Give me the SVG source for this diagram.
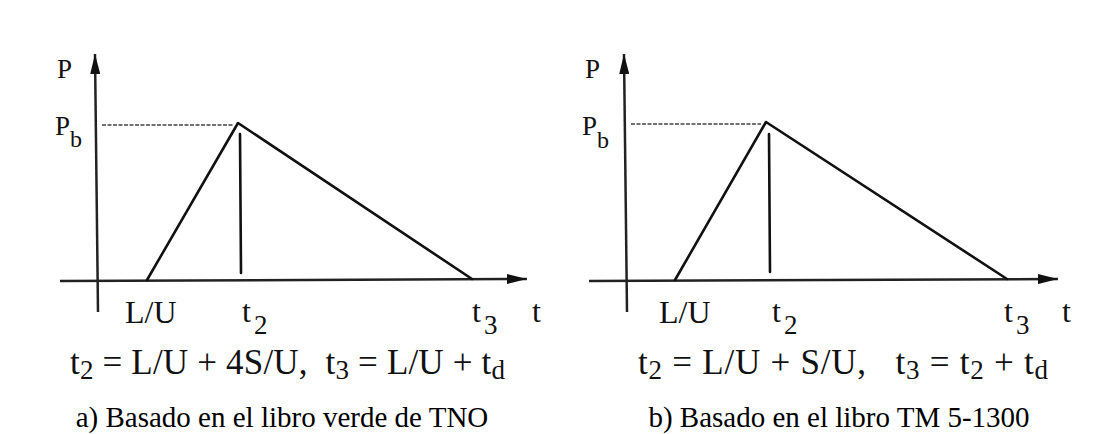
<svg xmlns="http://www.w3.org/2000/svg" width="1098" height="434" viewBox="0 0 1098 434">
<defs>
<style>
.ln{stroke:#111;stroke-width:2.6;fill:none;stroke-linecap:round;stroke-linejoin:round}
.ax{stroke:#222;stroke-width:2.5;fill:none}
.dash{stroke:#444;stroke-width:1.6;fill:none;stroke-dasharray:4 1.5}
.tx{font-family:"Liberation Serif","Times New Roman",serif;fill:#111}
.lab{font-size:27px}
.tk{font-size:32px}
.fm{font-size:35px}
.cap{font-size:29px;fill:#000}
</style>
<marker id="ah" viewBox="0 0 20 10" refX="20" refY="5" markerWidth="20" markerHeight="10" orient="auto" markerUnits="userSpaceOnUse">
<path d="M0,0 L20,5 L0,10 z" fill="#111"/>
</marker>
</defs>
<rect width="1098" height="434" fill="#fff"/>

<g id="panel-a">
  <g id="axes-a">
    <line class="ax" x1="98" y1="312" x2="95" y2="54" marker-end="url(#ah)"/>
    <line class="ax" x1="60" y1="281" x2="527" y2="279" marker-end="url(#ah)"/>
  </g>
  <g id="curve-a">
    <line class="dash" x1="102" y1="125" x2="234" y2="125"/>
    <polyline class="ln" points="147,280 238,123 472,279"/>
    <line class="ln" x1="240" y1="134" x2="241" y2="273"/>
  </g>
  <g id="labels-a" class="tx">
    <text class="lab" x="57" y="78">P</text>
    <text class="lab" x="55" y="135">P<tspan dy="12" font-size="24">b</tspan></text>
    <text class="tk" x="125" y="323">L/U</text>
    <text class="tk" x="242" y="322">t<tspan dx="3" dy="12" font-size="27">2</tspan></text>
    <text class="tk" x="472" y="322">t<tspan dx="3" dy="12" font-size="27">3</tspan></text>
    <text class="tk" x="532" y="322">t</text>
  </g>
  <text class="tx fm" x="70" y="374" xml:space="preserve" textLength="435" lengthAdjust="spacing">t<tspan dy="5" font-size="27">2</tspan><tspan dy="-5"> = L/U + 4S/U,  t</tspan><tspan dy="5" font-size="27">3</tspan><tspan dy="-5"> = L/U + t</tspan><tspan dy="5" font-size="27">d</tspan></text>
  <text class="tx cap" x="282" y="427" text-anchor="middle">a) Basado en el libro verde de TNO</text>
</g>

<g id="panel-b">
  <g id="axes-b">
    <line class="ax" x1="627" y1="312" x2="624" y2="54" marker-end="url(#ah)"/>
    <line class="ax" x1="589" y1="281" x2="1058" y2="279" marker-end="url(#ah)"/>
  </g>
  <g id="curve-b">
    <line class="dash" x1="631" y1="124" x2="761" y2="124"/>
    <polyline class="ln" points="675,280 766,122 1007,279"/>
    <line class="ln" x1="769" y1="134" x2="770" y2="272"/>
  </g>
  <g id="labels-b" class="tx">
    <text class="lab" x="585" y="78">P</text>
    <text class="lab" x="582" y="135">P<tspan dy="13" font-size="24">b</tspan></text>
    <text class="tk" x="659" y="323">L/U</text>
    <text class="tk" x="772" y="322">t<tspan dx="3" dy="12" font-size="27">2</tspan></text>
    <text class="tk" x="1004" y="322">t<tspan dx="3" dy="12" font-size="27">3</tspan></text>
    <text class="tk" x="1062" y="322">t</text>
  </g>
  <text class="tx fm" x="638" y="374" xml:space="preserve" textLength="410" lengthAdjust="spacing">t<tspan dy="5" font-size="27">2</tspan><tspan dy="-5"> = L/U + S/U,   t</tspan><tspan dy="5" font-size="27">3</tspan><tspan dy="-5"> = t</tspan><tspan dy="5" font-size="27">2</tspan><tspan dy="-5"> + t</tspan><tspan dy="5" font-size="27">d</tspan></text>
  <text class="tx cap" x="839" y="427" text-anchor="middle">b) Basado en el libro TM 5-1300</text>
</g>
</svg>
